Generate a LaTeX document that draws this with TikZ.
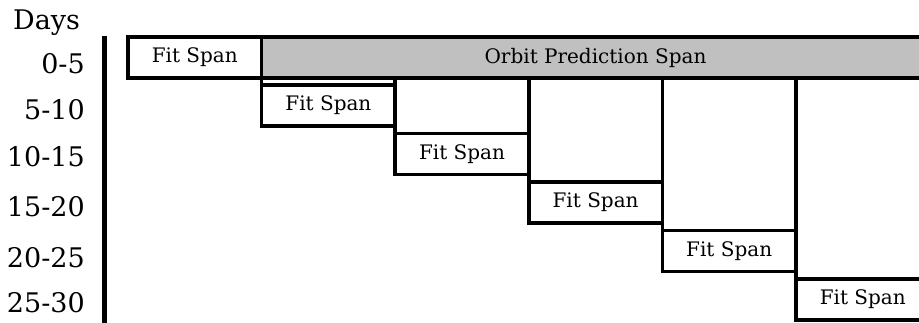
\documentclass[tikz,border=0pt]{standalone}
\usepackage{fontspec}
\setmainfont{DejaVu Serif}
\definecolor{predgray}{RGB}{192,192,192}
\begin{document}
\begin{tikzpicture}[x=1pt,y=-1pt,
  spanbox/.style={draw=black,line width=3.5pt,rectangle,minimum width=133.6pt,minimum height=41pt,inner sep=0pt,outer sep=0pt,anchor=north west,font=\fontsize{20}{24}\selectfont},
  predbox/.style={spanbox,fill=predgray,minimum width=667.8pt},
  daylabel/.style={anchor=east,inner sep=0pt,font=\fontsize{27}{32}\selectfont},
  edge/.style={draw=black,line width=3.5pt},
  axis/.style={draw=black,line width=5pt}]
\useasboundingbox (0,0) rectangle (919,322);
\clip (0,0) rectangle (919,322);
% row labels
\node[anchor=base west,inner sep=0pt,font=\fontsize{27}{32}\selectfont] (days) at (13,29) {Days};
\node[daylabel] (l0) at (85,63.5) {0-5};
\node[daylabel] (l1) at (85,110) {5-10};
\node[daylabel] (l2) at (85,157) {10-15};
\node[daylabel] (l3) at (85,207) {15-20};
\node[daylabel] (l4) at (85,258) {20-25};
\node[daylabel] (l5) at (85,303) {25-30};
% axis
\coordinate (axtop) at (104.5,36);
\coordinate (axbot) at (104.5,325);
\draw[axis] (axtop) -- (axbot);
% boxes
\node[spanbox] (fit0) at (128,37) {Fit Span};
\node[predbox] (pred) at (261.6,37) {Orbit Prediction Span};
\node[spanbox] (fit1) at (261.6,85) {Fit Span};
\node[spanbox] (fit2) at (395.2,133.5) {Fit Span};
\node[spanbox] (fit3) at (528.8,182) {Fit Span};
\node[spanbox] (fit4) at (662.4,230.5) {Fit Span};
\node[spanbox] (fit5) at (796,279) {Fit Span};
% staircase verticals
\foreach \k in {1,...,5}{
  \draw[edge] (pred.south -| fit\k.north west) -- (fit\k.north west);
}
\end{tikzpicture}
\end{document}
